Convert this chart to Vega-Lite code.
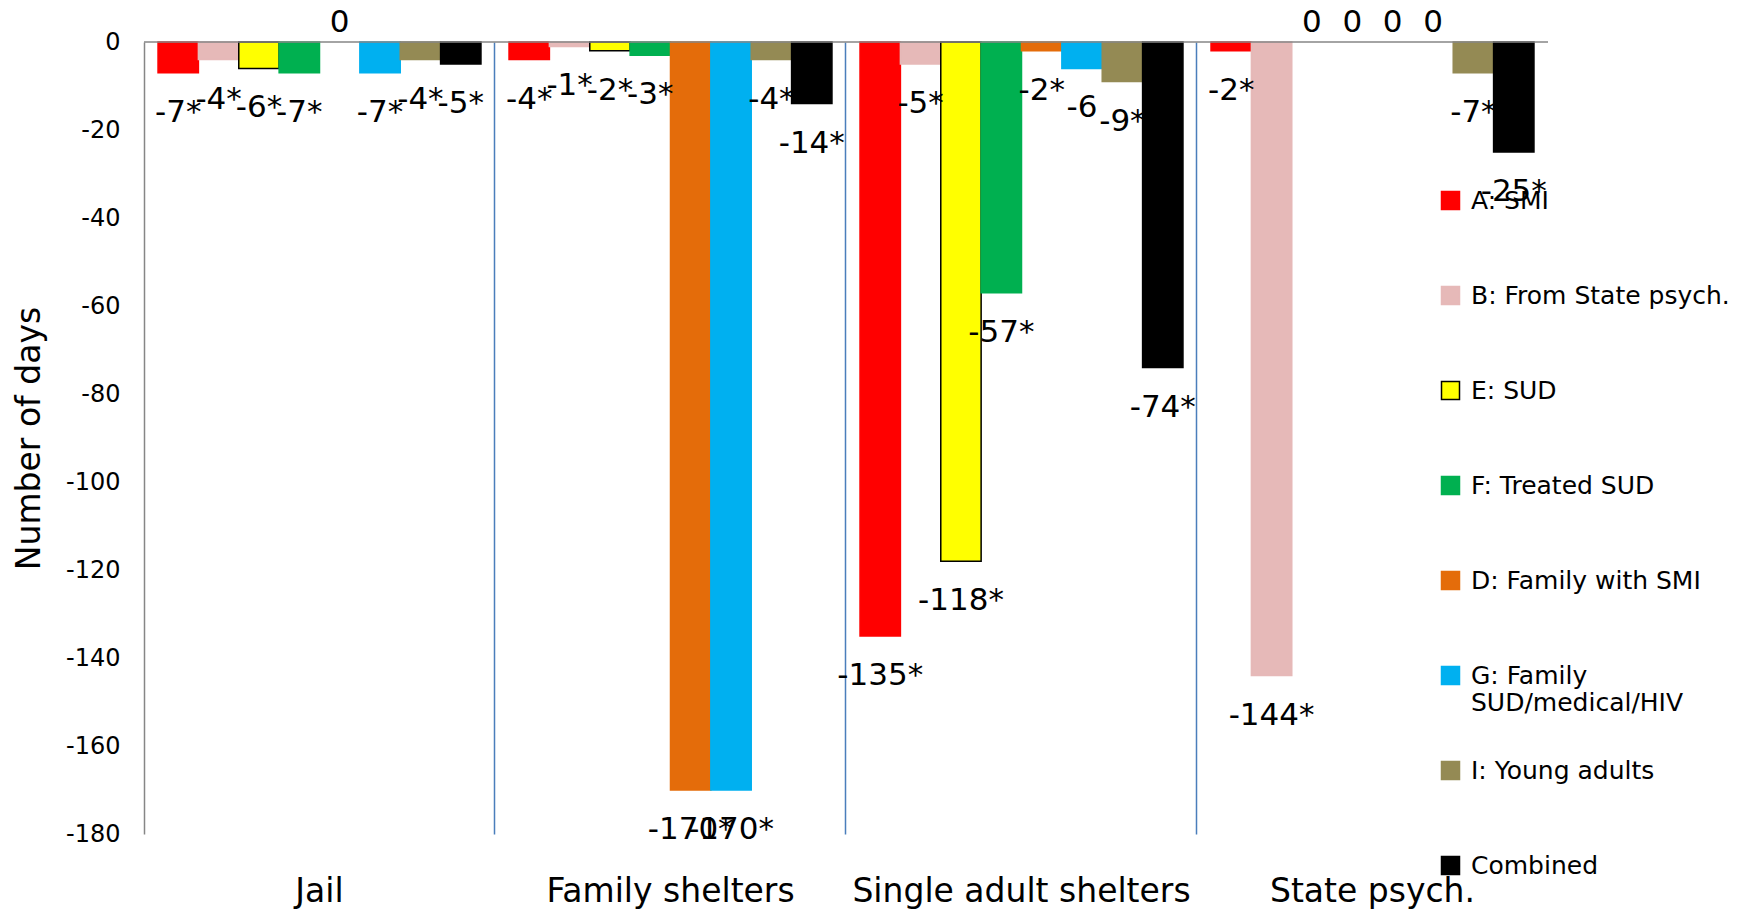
{
  "$schema": "https://vega.github.io/schema/vega-lite/v6.json",
  "width": 1404,
  "height": 792,
  "autosize": "none",
  "padding": {"left": 144, "top": 42, "right": 210, "bottom": 78},
  "background": "white",
  "config": {"font": "DejaVu Sans", "view": {"stroke": null}},
  "data": {"values": [
    {"cat": "Jail", "series": "A: SMI", "value": -7, "label": "-7*"},
    {"cat": "Jail", "series": "B: From State psych.", "value": -4, "label": "-4*"},
    {"cat": "Jail", "series": "E: SUD", "value": -6, "label": "-6*"},
    {"cat": "Jail", "series": "F: Treated SUD", "value": -7, "label": "-7*"},
    {"cat": "Jail", "series": "D: Family with SMI", "value": 0, "label": "0"},
    {"cat": "Jail", "series": "G: Family SUD/medical/HIV", "value": -7, "label": "-7*"},
    {"cat": "Jail", "series": "I: Young adults", "value": -4, "label": "-4*"},
    {"cat": "Jail", "series": "Combined", "value": -5, "label": "-5*"},
    {"cat": "Family shelters", "series": "A: SMI", "value": -4, "label": "-4*"},
    {"cat": "Family shelters", "series": "B: From State psych.", "value": -1, "label": "-1*"},
    {"cat": "Family shelters", "series": "E: SUD", "value": -2, "label": "-2*"},
    {"cat": "Family shelters", "series": "F: Treated SUD", "value": -3, "label": "-3*"},
    {"cat": "Family shelters", "series": "D: Family with SMI", "value": -170, "label": "-170*"},
    {"cat": "Family shelters", "series": "G: Family SUD/medical/HIV", "value": -170, "label": "-170*"},
    {"cat": "Family shelters", "series": "I: Young adults", "value": -4, "label": "-4*"},
    {"cat": "Family shelters", "series": "Combined", "value": -14, "label": "-14*"},
    {"cat": "Single adult shelters", "series": "A: SMI", "value": -135, "label": "-135*"},
    {"cat": "Single adult shelters", "series": "B: From State psych.", "value": -5, "label": "-5*"},
    {"cat": "Single adult shelters", "series": "E: SUD", "value": -118, "label": "-118*"},
    {"cat": "Single adult shelters", "series": "F: Treated SUD", "value": -57, "label": "-57*"},
    {"cat": "Single adult shelters", "series": "D: Family with SMI", "value": -2, "label": "-2*"},
    {"cat": "Single adult shelters", "series": "G: Family SUD/medical/HIV", "value": -6, "label": "-6"},
    {"cat": "Single adult shelters", "series": "I: Young adults", "value": -9, "label": "-9*"},
    {"cat": "Single adult shelters", "series": "Combined", "value": -74, "label": "-74*"},
    {"cat": "State psych.", "series": "A: SMI", "value": -2, "label": "-2*"},
    {"cat": "State psych.", "series": "B: From State psych.", "value": -144, "label": "-144*"},
    {"cat": "State psych.", "series": "E: SUD", "value": 0, "label": "0"},
    {"cat": "State psych.", "series": "F: Treated SUD", "value": 0, "label": "0"},
    {"cat": "State psych.", "series": "D: Family with SMI", "value": 0, "label": "0"},
    {"cat": "State psych.", "series": "G: Family SUD/medical/HIV", "value": 0, "label": "0"},
    {"cat": "State psych.", "series": "I: Young adults", "value": -7, "label": "-7*"},
    {"cat": "State psych.", "series": "Combined", "value": -25, "label": "-25*"}
  ]},
  "layer": [
    {
      "transform": [{"filter": "datum.value < 0"}],
      "mark": {"type": "bar", "strokeWidth": 1.5},
      "encoding": {
        "x": {"field": "cat", "type": "nominal", "sort": ["Jail", "Family shelters", "Single adult shelters", "State psych."],
              "scale": {"paddingInner": 0.08, "paddingOuter": 0.04},
              "axis": {"title": null, "orient": "bottom", "domain": false, "ticks": false, "labelAngle": 0,
                       "labelFontSize": 33, "labelColor": "#000000", "labelPadding": 41, "labelLimit": 0,
                       "grid": true, "bandPosition": -0.0435, "gridColor": "#4A7EBB", "gridWidth": 1.5,
                       "gridOpacity": {"condition": {"test": "datum.value === 'Jail'", "value": 0}, "value": 1}}},
        "xOffset": {"field": "series", "type": "nominal",
                    "sort": ["A: SMI", "B: From State psych.", "E: SUD", "F: Treated SUD", "D: Family with SMI", "G: Family SUD/medical/HIV", "I: Young adults", "Combined"],
                    "scale": {"paddingInner": 0, "paddingOuter": 0}},
        "y": {"field": "value", "type": "quantitative",
              "scale": {"domain": [-180, 0], "nice": false, "zero": true},
              "axis": {"title": "Number of days", "titleFontSize": 33, "titleFontWeight": "normal", "titleColor": "#000000",
                       "titleX": -115, "titleY": 396, "titleBaseline": "middle", "titleAngle": -90,
                       "values": [-180, -160, -140, -120, -100, -80, -60, -40, -20, 0],
                       "labelExpr": "'' + datum.value",
                       "ticks": false, "grid": false, "domainColor": "#868686", "domainWidth": 1.5,
                       "labelFontSize": 24, "labelColor": "#000000", "labelPadding": 24}},
        "fill": {"field": "series", "type": "nominal",
                 "sort": ["A: SMI", "B: From State psych.", "E: SUD", "F: Treated SUD", "D: Family with SMI", "G: Family SUD/medical/HIV", "I: Young adults", "Combined"],
                 "scale": {"domain": ["A: SMI", "B: From State psych.", "E: SUD", "F: Treated SUD", "D: Family with SMI", "G: Family SUD/medical/HIV", "I: Young adults", "Combined"],
                           "range": ["#FF0000", "#E6B9B8", "#FFFF00", "#00B050", "#E46C0A", "#00B0F0", "#948A54", "#000000"]},
                 "legend": {"title": null, "orient": "none", "legendX": 1294, "legendY": 146, "direction": "vertical",
                            "symbolType": "square", "symbolSize": 324, "symbolStrokeWidth": 1.5,
                            "labelFontSize": 25, "labelColor": "#000000", "labelOffset": 8, "labelLimit": 400,
                            "labelLineHeight": 38, "gridAlign": "all", "rowPadding": 42,
                            "labelExpr": "datum.label === 'G: Family SUD/medical/HIV' ? ['G: Family', 'SUD/medical/HIV'] : datum.label"}},
        "stroke": {"field": "series", "type": "nominal",
                   "sort": ["A: SMI", "B: From State psych.", "E: SUD", "F: Treated SUD", "D: Family with SMI", "G: Family SUD/medical/HIV", "I: Young adults", "Combined"],
                   "scale": {"domain": ["A: SMI", "B: From State psych.", "E: SUD", "F: Treated SUD", "D: Family with SMI", "G: Family SUD/medical/HIV", "I: Young adults", "Combined"],
                             "range": ["#FF0000", "#E6B9B8", "#000000", "#00B050", "#E46C0A", "#00B0F0", "#948A54", "#000000"]},
                   "legend": {"title": null, "orient": "none", "legendX": 1294, "legendY": 146, "direction": "vertical",
                            "symbolType": "square", "symbolSize": 324, "symbolStrokeWidth": 1.5,
                            "labelFontSize": 25, "labelColor": "#000000", "labelOffset": 8, "labelLimit": 400,
                            "labelLineHeight": 38, "gridAlign": "all", "rowPadding": 42,
                            "labelExpr": "datum.label === 'G: Family SUD/medical/HIV' ? ['G: Family', 'SUD/medical/HIV'] : datum.label"}}
      }
    },
    {
      "transform": [{"filter": "datum.value < 0"}],
      "mark": {"type": "text", "baseline": "top", "dy": 25, "fontSize": 31, "color": "#000000"},
      "encoding": {
        "x": {"field": "cat", "type": "nominal", "sort": ["Jail", "Family shelters", "Single adult shelters", "State psych."]},
        "xOffset": {"field": "series", "type": "nominal",
                    "sort": ["A: SMI", "B: From State psych.", "E: SUD", "F: Treated SUD", "D: Family with SMI", "G: Family SUD/medical/HIV", "I: Young adults", "Combined"]},
        "y": {"field": "value", "type": "quantitative"},
        "text": {"field": "label"}
      }
    },
    {
      "transform": [{"filter": "datum.value === 0"}],
      "mark": {"type": "text", "baseline": "alphabetic", "dy": -10, "fontSize": 31, "color": "#000000"},
      "encoding": {
        "x": {"field": "cat", "type": "nominal", "sort": ["Jail", "Family shelters", "Single adult shelters", "State psych."]},
        "xOffset": {"field": "series", "type": "nominal",
                    "sort": ["A: SMI", "B: From State psych.", "E: SUD", "F: Treated SUD", "D: Family with SMI", "G: Family SUD/medical/HIV", "I: Young adults", "Combined"]},
        "y": {"field": "value", "type": "quantitative"},
        "text": {"field": "label"}
      }
    },
    {
      "data": {"values": [{"z": 0}]},
      "mark": {"type": "rule", "color": "#868686", "strokeWidth": 1.5},
      "encoding": {"y": {"field": "z", "type": "quantitative"}}
    }
  ]
}
